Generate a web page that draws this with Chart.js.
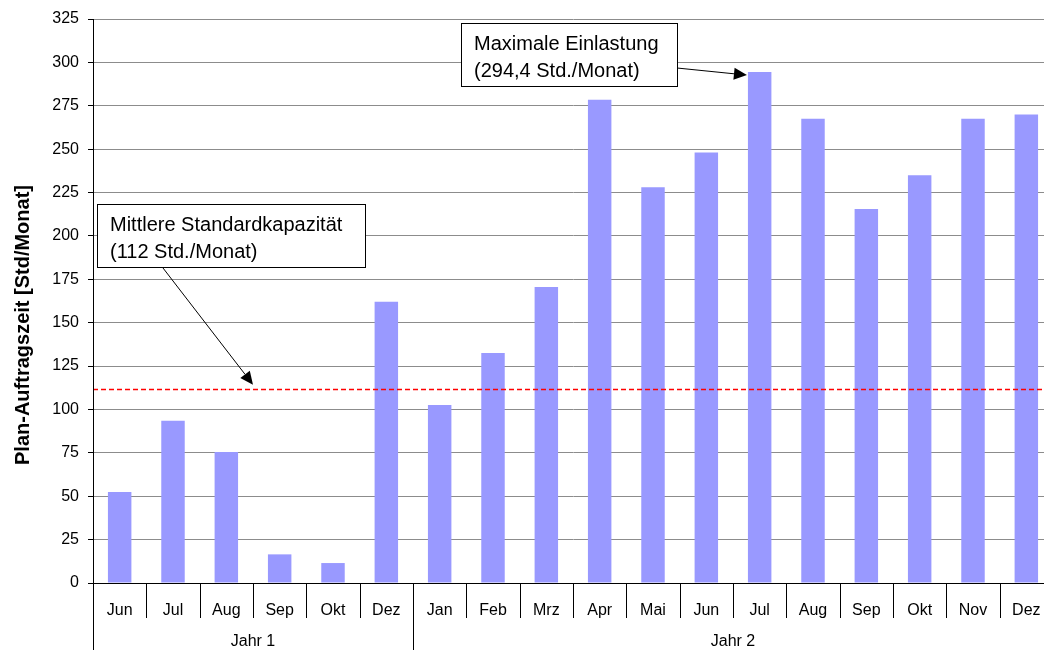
<!DOCTYPE html>
<html>
<head>
<meta charset="utf-8">
<script src="https://cdn.jsdelivr.net/npm/chart.js@4/dist/chart.umd.min.js"></script>
<style>
  body { margin: 0; background: #fff; overflow: hidden; }
  #wrap { width: 1053px; height: 650px; position: relative; }
</style>
</head>
<body>
<div id="wrap"><canvas id="loadChart"></canvas></div>
<script>
const months = ['Jun', 'Jul', 'Aug', 'Sep', 'Okt', 'Dez',
  'Jan', 'Feb', 'Mrz', 'Apr', 'Mai', 'Jun', 'Jul', 'Aug', 'Sep', 'Okt', 'Nov', 'Dez'];
const hours = [52.5, 93.5, 75.5, 16.5, 11.5, 162,
  102.5, 132.5, 170.5, 278.5, 228, 248, 294.4, 267.5, 215.5, 235, 267.5, 270];
const yearLabels = ['Jahr 1', 'Jahr 2'];
const yearSpans = [6, 12];
const yTicks = [0, 25, 50, 75, 100, 125, 150, 175, 200, 225, 250, 275, 300, 325];
const capacity = 112;

const FONT = '"Liberation Sans", Arial, sans-serif';

// arrow with filled head
function arrow(ctx, x1, y1, x2, y2) {
  const a = Math.atan2(y2 - y1, x2 - x1);
  const len = 13, w = 6;
  ctx.beginPath();
  ctx.moveTo(x1, y1);
  ctx.lineTo(x2 - Math.cos(a) * len, y2 - Math.sin(a) * len);
  ctx.stroke();
  ctx.beginPath();
  ctx.moveTo(x2, y2);
  ctx.lineTo(x2 - Math.cos(a) * len + Math.sin(a) * w, y2 - Math.sin(a) * len - Math.cos(a) * w);
  ctx.lineTo(x2 - Math.cos(a) * len - Math.sin(a) * w, y2 - Math.sin(a) * len + Math.cos(a) * w);
  ctx.closePath();
  ctx.fill();
}

function noteBox(ctx, x, y, w, h, lines) {
  ctx.fillStyle = '#fff';
  ctx.fillRect(x, y, w, h);
  ctx.strokeStyle = '#000';
  ctx.lineWidth = 1;
  ctx.strokeRect(x + 0.5, y + 0.5, w, h);
  ctx.fillStyle = '#000';
  ctx.font = '20px ' + FONT;
  ctx.textAlign = 'left';
  ctx.textBaseline = 'alphabetic';
  ctx.fillText(lines[0], x + 13, y + 27);
  ctx.fillText(lines[1], x + 13, y + 54);
}

const extras = {
  id: 'extras',
  afterDatasetsDraw(chart) {
    const { ctx, chartArea, scales: { y } } = chart;
    // mean capacity line
    const yc = Math.round(y.getPixelForValue(capacity)) + 0.5;
    ctx.save();
    ctx.strokeStyle = 'rgb(255, 0, 0)';
    ctx.lineWidth = 1.3;
    ctx.setLineDash([5, 3]);
    ctx.beginPath();
    ctx.moveTo(chartArea.left, yc);
    ctx.lineTo(chartArea.right, yc);
    ctx.stroke();
    ctx.restore();
  },
  afterDraw(chart) {
    const { ctx, chartArea, scales: { x, y } } = chart;
    const H = chart.height;
    const step = x.getPixelForValue(1) - x.getPixelForValue(0);
    const edge = i => x.getPixelForValue(0) - step / 2 + i * step;
    ctx.save();
    ctx.strokeStyle = '#000';
    ctx.lineWidth = 1;
    // month separators
    for (let i = 0; i <= months.length; i++) {
      const px = Math.round(edge(i)) + 0.5;
      ctx.beginPath();
      ctx.moveTo(px, chartArea.bottom);
      ctx.lineTo(px, chartArea.bottom + 35);
      ctx.stroke();
    }
    // year groups
    let start = 0;
    ctx.font = '16px ' + FONT;
    ctx.fillStyle = '#000';
    ctx.textAlign = 'center';
    ctx.textBaseline = 'middle';
    yearLabels.forEach((lab, k) => {
      const px = Math.round(edge(start)) + 0.5;
      ctx.beginPath();
      ctx.moveTo(px, start === 0 ? chartArea.top : chartArea.bottom);
      ctx.lineTo(px, H);
      ctx.stroke();
      const end = start + yearSpans[k];
      ctx.fillText(lab, (edge(start) + edge(end)) / 2, chartArea.bottom + 59);
      start = end;
    });
    // y title
    ctx.save();
    ctx.translate(23, 325);
    ctx.rotate(-Math.PI / 2);
    ctx.font = 'bold 20px ' + FONT;
    ctx.fillText('Plan-Auftragszeit [Std/Monat]', 0, 0);
    ctx.restore();

    // annotation: maximum
    const iMax = hours.indexOf(Math.max(...hours));
    const bar = chart.getDatasetMeta(0).data[iMax];
    noteBox(ctx, 461, 23, 216, 63, ['Maximale Einlastung', '(294,4 Std./Monat)']);
    ctx.fillStyle = '#000';
    arrow(ctx, 677, 68, bar.x - bar.width / 2 - 1, y.getPixelForValue(hours[iMax]) + 3);

    // annotation: capacity
    noteBox(ctx, 97, 204, 268, 63, ['Mittlere Standardkapazität', '(112 Std./Monat)']);
    ctx.fillStyle = '#000';
    arrow(ctx, 163, 268, (x.getPixelForValue(2) + x.getPixelForValue(3)) / 2, y.getPixelForValue(capacity) - 4);
    ctx.restore();
  }
};

new Chart(document.getElementById('loadChart'), {
  type: 'bar',
  data: {
    labels: months,
    datasets: [{
      data: hours,
      backgroundColor: '#9999ff',
      borderWidth: 0,
      categoryPercentage: 1,
      barPercentage: 0.44
    }]
  },
  options: {
    responsive: true,
    maintainAspectRatio: false,
    animation: false,
    layout: { padding: { top: 19, right: 0, left: 0, bottom: 0 } },
    plugins: { legend: { display: false }, tooltip: { enabled: false } },
    scales: {
      x: {
        grid: { display: false },
        border: { color: '#000' },
        ticks: { color: '#000', font: { family: FONT, size: 16 }, padding: 10, maxRotation: 0, autoSkip: false },
        afterFit(s) { s.height = 67; }
      },
      y: {
        min: 0,
        max: 325,
        afterBuildTicks(s) { s.ticks = yTicks.map(v => ({ value: v })); },
        grid: { color: '#8c8c8c', tickColor: '#000', tickLength: 5 },
        border: { color: '#000' },
        ticks: { color: '#000', font: { family: FONT, size: 16 }, padding: 9 },
        afterFit(s) { s.width = 93; }
      }
    }
  },
  plugins: [extras]
});
</script>
</body>
</html>
